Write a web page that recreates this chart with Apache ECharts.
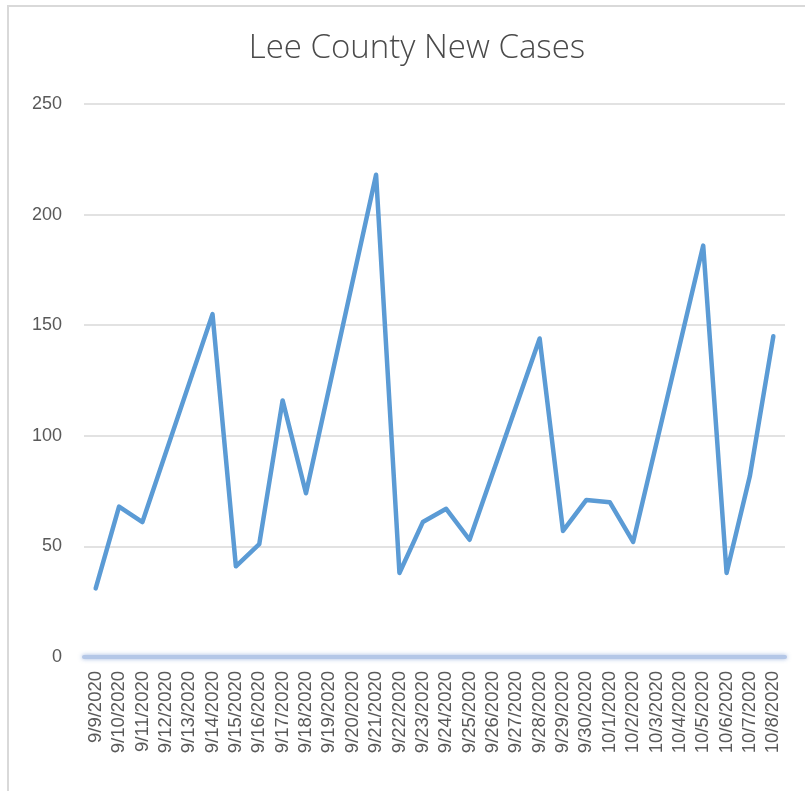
<!DOCTYPE html>
<html>
<head>
<meta charset="utf-8">
<script src="https://cdn.jsdelivr.net/npm/echarts@6/dist/echarts.min.js"></script>
<style>
html,body{margin:0;padding:0;background:#fff;}
#chart{width:805px;height:791px;}
</style>
</head>
<body>
<div id="chart"></div>
<script>
const chartTitle = 'Lee County New Cases';
const dates = ['9/9/2020','9/10/2020','9/11/2020','9/12/2020','9/13/2020','9/14/2020','9/15/2020','9/16/2020','9/17/2020','9/18/2020','9/19/2020','9/20/2020','9/21/2020','9/22/2020','9/23/2020','9/24/2020','9/25/2020','9/26/2020','9/27/2020','9/28/2020','9/29/2020','9/30/2020','10/1/2020','10/2/2020','10/3/2020','10/4/2020','10/5/2020','10/6/2020','10/7/2020','10/8/2020'];
// weekend days carry no value; the line is drawn straight across them
const newCases = [31,68,61,null,null,155,41,51,116,74,null,null,218,38,61,67,53,null,null,144,57,71,70,52,null,null,186,38,82,145];
const yTicks = [0,50,100,150,200,250];

const chart = echarts.init(document.getElementById('chart'));
const txt = '#595959';
chart.setOption({
  animation: false,
  backgroundColor: '#fff',
  graphic: [{
    type: 'rect',
    shape: {x: 8, y: 6, width: 820, height: 820},
    style: {fill: 'none', stroke: '#d9d9d9', lineWidth: 2},
    silent: true, z: -10
  }],
  title: {
    text: chartTitle,
    left: 412,
    textAlign: 'center',
    top: 27,
    textStyle: {fontFamily: 'Open Sans', fontWeight: 300, fontSize: 33, color: '#4a4a4a'}
  },
  grid: {left: 84, right: 20, top: 104, bottom: 134, containLabel: false},
  xAxis: {
    type: 'category',
    data: dates,
    boundaryGap: true,
    axisLine: {show: true, lineStyle: {color: '#b4c7e7', width: 4, shadowColor: 'rgba(68,114,196,0.5)', shadowBlur: 4}},
    axisTick: {show: false},
    axisLabel: {interval: 0, rotate: 90, color: txt, fontFamily: 'Liberation Sans', fontSize: 18.5, margin: 14}
  },
  yAxis: {
    type: 'value',
    min: yTicks[0],
    max: yTicks[yTicks.length - 1],
    interval: 50,
    axisLine: {show: false},
    axisTick: {show: false},
    splitLine: {lineStyle: {color: '#d9d9d9', width: 1.5}},
    axisLabel: {color: txt, fontFamily: 'Liberation Sans', fontSize: 18, margin: 22}
  },
  series: [{
    type: 'line',
    data: newCases,
    connectNulls: true,
    showSymbol: false,
    symbol: 'none',
    lineStyle: {color: '#5b9bd5', width: 4.5, cap: 'round', join: 'round'},
    z: 3
  }]
});
</script>
</body>
</html>
